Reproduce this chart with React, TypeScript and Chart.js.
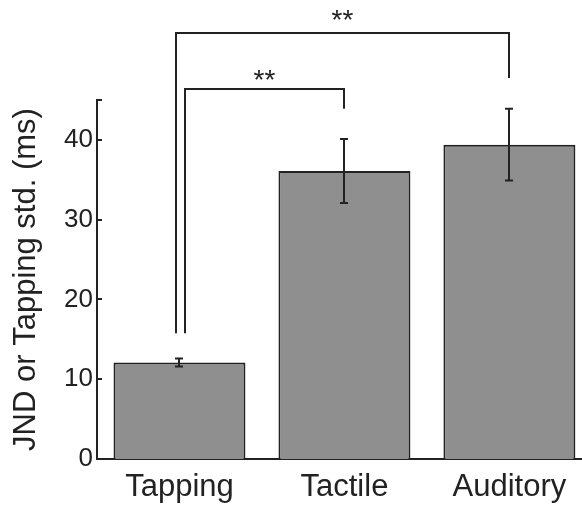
import React, { useEffect, useRef } from "react";
import { Chart, registerables } from "chart.js";

Chart.register(...registerables);

// ---- data ----
const categories = ["Tapping", "Tactile", "Auditory"];
const xPositions = [1, 2, 3];
const meanValues = [12.1, 36.1, 39.4];
const errorValues = [0.5, 4.0, 4.5];
const yTicks = [0, 10, 20, 30, 40];
const yAxisMin = 0;
const yAxisMax = 45;
const xAxisMin = 0.5;
const xAxisMax = 3.44;
const yAxisTitle = "JND or Tapping std. (ms)";

// significance brackets (data units)
const bracketLeftX = [0.98, 1.035];
const bracketRightX = [3, 2];
const bracketLeftFoot = [15.75, 15.75];
const bracketRightFoot = [47.75, 43.9];
const bracketTop = [53.4, 46.4];
const bracketLabels = ["**", "**"];
const bracketLabelY = [54.9, 47.4];

const INK = "#222222";
const FONT = "'Liberation Sans', Arial, Helvetica, sans-serif";

const overlayPlugin = {
  id: "overlay",
  afterDraw(chart: any) {
    const { ctx } = chart;
    const x = chart.scales.x;
    const y = chart.scales.y;
    ctx.save();
    ctx.strokeStyle = INK;
    ctx.lineWidth = 2;
    ctx.lineCap = "butt";

    // inward y tick marks
    [...yTicks, yAxisMax].forEach((v) => {
      const py = Math.round(y.getPixelForValue(v));
      ctx.beginPath();
      ctx.moveTo(x.left - 1, py);
      ctx.lineTo(x.left + 5, py);
      ctx.stroke();
    });

    // error bars
    meanValues.forEach((m, i) => {
      const px = Math.round(x.getPixelForValue(xPositions[i]));
      const top = y.getPixelForValue(m + errorValues[i]);
      const bot = y.getPixelForValue(m - errorValues[i]);
      ctx.beginPath();
      ctx.moveTo(px, top);
      ctx.lineTo(px, bot);
      ctx.moveTo(px - 4, top);
      ctx.lineTo(px + 4, top);
      ctx.moveTo(px - 4, bot);
      ctx.lineTo(px + 4, bot);
      ctx.stroke();
    });

    // significance brackets
    ctx.fillStyle = INK;
    ctx.font = `28px ${FONT}`;
    ctx.textAlign = "center";
    ctx.textBaseline = "middle";
    bracketLeftX.forEach((lx, i) => {
      const x1 = Math.round(x.getPixelForValue(lx));
      const x2 = Math.round(x.getPixelForValue(bracketRightX[i]));
      const yTop = Math.round(y.getPixelForValue(bracketTop[i]));
      const y1 = y.getPixelForValue(bracketLeftFoot[i]);
      const y2 = y.getPixelForValue(bracketRightFoot[i]);
      ctx.beginPath();
      ctx.moveTo(x1, y1);
      ctx.lineTo(x1, yTop);
      ctx.lineTo(x2, yTop);
      ctx.lineTo(x2, y2);
      ctx.stroke();
      ctx.fillText(bracketLabels[i], (x1 + x2) / 2, y.getPixelForValue(bracketLabelY[i]));
    });

    ctx.restore();
  },
};

export default function App() {
  const canvasRef = useRef<HTMLCanvasElement | null>(null);

  useEffect(() => {
    const canvas = canvasRef.current;
    if (!canvas) return;
    const chart = new Chart(canvas, {
      type: "bar",
      data: {
        datasets: [
          {
            data: xPositions.map((xv, i) => ({ x: xv, y: meanValues[i] })),
            backgroundColor: "#8f8f8f",
            borderColor: INK,
            borderWidth: 2,
            categoryPercentage: 1,
            barPercentage: 0.8,
          },
        ],
      },
      options: {
        animation: false,
        responsive: false,
        layout: { padding: { top: 100, left: 0, right: 0, bottom: 0 } },
        plugins: {
          legend: { display: false },
          tooltip: { enabled: false },
        },
        scales: {
          x: {
            type: "linear",
            min: xAxisMin,
            max: xAxisMax,
            offset: false,
            grid: { display: false, drawTicks: false },
            border: { display: true, color: INK, width: 2 },
            ticks: {
              padding: 10,
              color: INK,
              font: { family: FONT, size: 31 },
              autoSkip: false,
              maxRotation: 0,
              callback: (value: any) => categories[xPositions.indexOf(Number(value))] ?? "",
            },
            afterBuildTicks: (scale: any) => {
              scale.ticks = xPositions.map((v) => ({ value: v }));
            },
            afterFit: (scale: any) => {
              scale.height = 47;
            },
          },
          y: {
            min: yAxisMin,
            max: yAxisMax,
            grid: { display: false, drawTicks: false },
            border: { display: true, color: INK, width: 2 },
            ticks: {
              padding: 4,
              color: INK,
              font: { family: FONT, size: 26 },
            },
            afterBuildTicks: (scale: any) => {
              scale.ticks = yTicks.map((v) => ({ value: v }));
            },
            afterFit: (scale: any) => {
              scale.width = 97;
            },
            title: {
              display: true,
              text: yAxisTitle,
              color: INK,
              font: { family: FONT, size: 31 },
              padding: { top: 8, bottom: 0 },
            },
          },
        },
      },
      plugins: [overlayPlugin],
    });
    return () => chart.destroy();
  }, []);

  return (
    <div style={{ position: "absolute", left: 0, top: 0, width: 582, height: 506, background: "#fff" }}>
      <canvas ref={canvasRef} width={582} height={506} style={{ display: "block" }} />
    </div>
  );
}
